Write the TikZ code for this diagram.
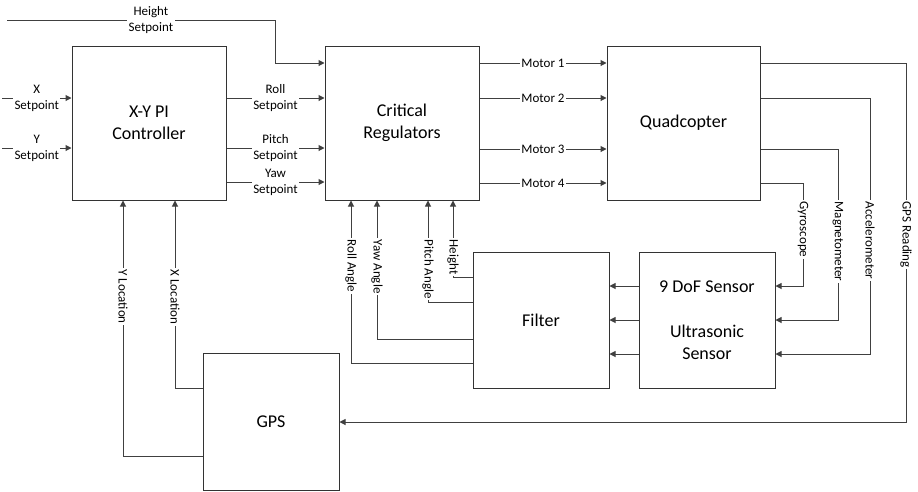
\documentclass[tikz,border=0pt]{standalone}
\usepackage{fontspec}
\setmainfont{Carlito}
\usetikzlibrary{arrows.meta}

\tikzset{
  block/.style={draw=black!80, line width=1pt, minimum width=154pt, minimum height=154pt,
    align=center, font=\fontsize{18}{22.5}\selectfont},
  smallblock/.style={block, minimum width=136pt, minimum height=136pt},
  wire/.style={draw=black!75, line width=1pt},
  arr/.style={wire, -{Triangle[length=6pt,width=6pt]}},
  lbl/.style={fill=white, inner sep=1.5pt, align=center, font=\fontsize{13}{16}\selectfont},
  vlbl/.style={lbl, rotate=-90, anchor=west}
}

\begin{document}
\begin{tikzpicture}[x=1pt,y=-1pt]
  \useasboundingbox (0,0) rectangle (918,491);

  % Blocks
  \node[block] (xy) at (149,123) {X-Y PI\\Controller};
  \node[block] (cr) at (402,123) {Critical\\Regulators};
  \node[block, minimum width=153pt] (quad) at (683.5,123) {Quadcopter};
  \node[smallblock] (filter) at (541,320) {Filter};
  \node[smallblock] (sensor) at (707,320) {9 DoF Sensor\\ \\Ultrasonic\\Sensor};
  \node[smallblock, minimum height=137pt] (gps) at (271,421.5) {GPS};

  % Setpoints
  \coordinate (xin) at (2,98);
  \coordinate (yin) at (2,148);
  \coordinate (hin) at (7,20);
  \draw[arr] (xin) -- node[lbl] {X\\Setpoint} (xin -| xy.west);
  \draw[arr] (yin) -- node[lbl] {Y\\Setpoint} (yin -| xy.west);
  \draw[arr] (hin) -- node[lbl, pos=0.537] {Height\\Setpoint} (275,20) |- (cr.west |- 0,63);
  \draw[arr] (xy.east |- 0,98) -- node[lbl] {Roll\\Setpoint} (cr.west |- 0,98);
  \draw[arr] (xy.east |- 0,148) -- node[lbl] {Pitch\\Setpoint} (cr.west |- 0,148);
  \draw[arr] (xy.east |- 0,182) -- node[lbl] {Yaw\\Setpoint} (cr.west |- 0,182);

  % Motors
  \draw[arr] (cr.east |- 0,63) -- node[lbl] {Motor 1} (quad.west |- 0,63);
  \draw[arr] (cr.east |- 0,98) -- node[lbl] {Motor 2} (quad.west |- 0,98);
  \draw[arr] (cr.east |- 0,149) -- node[lbl] {Motor 3} (quad.west |- 0,149);
  \draw[arr] (cr.east |- 0,183) -- node[lbl] {Motor 4} (quad.west |- 0,183);

  % Readings
  \draw[arr] (quad.east |- 0,183) -- (803,183) |- (sensor.east |- 0,286);
  \draw[arr] (quad.east |- 0,149) -- (838,149) |- (sensor.east |- 0,320);
  \draw[arr] (quad.east |- 0,98) -- (870,98) |- (sensor.east |- 0,354);
  \draw[arr] (quad.east |- 0,63) -- (906,63) |- (gps.east |- 0,422);
  \node[vlbl] (gyro) at (803,200) {Gyroscope};
  \node[vlbl] (magn) at (838,200) {Magnetometer};
  \node[vlbl] (accel) at (870,200) {Accelerometer};
  \node[vlbl] (gpsread) at (906,200) {GPS Reading};

  % Sensor to filter
  \draw[arr] (sensor.west |- 0,286) -- (filter.east |- 0,286);
  \draw[arr] (sensor.west |- 0,320) -- (filter.east |- 0,320);
  \draw[arr] (sensor.west |- 0,354) -- (filter.east |- 0,354);

  % Filter to regulators
  \draw[arr] (filter.west |- 0,277) -| (cr.south -| 453,0);
  \draw[arr] (filter.west |- 0,302) -| (cr.south -| 428,0);
  \draw[arr] (filter.west |- 0,339) -| (cr.south -| 377,0);
  \draw[arr] (filter.west |- 0,363) -| (cr.south -| 351,0);
  \node[vlbl] (hgt) at (453,238) {Height};
  \node[vlbl] (pitch) at (428,238) {Pitch Angle};
  \node[vlbl] (yaw) at (377,238) {Yaw Angle};
  \node[vlbl] (roll) at (351,238) {Roll Angle};

  % GPS to controller
  \draw[arr] (gps.west |- 0,388) -| (xy.south -| 175,0);
  \draw[arr] (gps.west |- 0,456) -| (xy.south -| 123,0);
  \node[vlbl] (xloc) at (175,268) {X Location};
  \node[vlbl] (yloc) at (123,268) {Y Location};
\end{tikzpicture}
\end{document}
